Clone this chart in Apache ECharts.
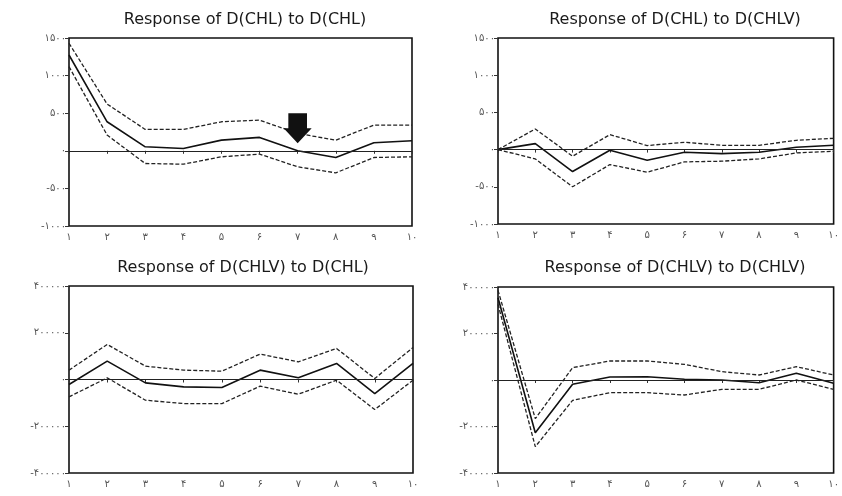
<!DOCTYPE html>
<html>
<head>
<meta charset="utf-8">
<script src="https://cdn.jsdelivr.net/npm/echarts@6/dist/echarts.min.js"></script>
<style>html,body{margin:0;padding:0;background:#fff}#c{width:842px;height:496px}</style>
</head>
<body>
<div id="c"></div>
<script>
var periods = [1, 2, 3, 4, 5, 6, 7, 8, 9, 10];
var titles = ['Response of D(CHL) to D(CHL)', 'Response of D(CHL) to D(CHLV)', 'Response of D(CHLV) to D(CHL)', 'Response of D(CHLV) to D(CHLV)'];

var chlChl = [1274, 386, 53, 31, 142, 178, 0, -89, 107, 133];
var chlChlUp = [1430, 622, 284, 284, 386, 408, 231, 142, 342, 342];
var chlChlLo = [1119, 209, -169, -178, -80, -44, -213, -293, -89, -80];

var chlChlv = [0, 80, -295, -9, -143, -36, -54, -36, 31, 58];
var chlChlvUp = [0, 277, -89, 201, 54, 98, 58, 58, 125, 152];
var chlChlvLo = [0, -125, -500, -201, -304, -165, -156, -125, -45, -22];

var chlvChl = [-21400, 78600, -14300, -31400, -34300, 40000, 7100, 68600, -60000, 68600];
var chlvChlUp = [40000, 150000, 57100, 40000, 35700, 108600, 75700, 132900, 4300, 137100];
var chlvChlLo = [-74300, 7100, -88600, -102900, -102900, -28600, -62900, -2900, -128600, -2900];

var chlvChlv = [354000, -226600, -18600, 12900, 14300, 2900, 0, -11500, 28700, -14300];
var chlvChlvUp = [385700, -166300, 53100, 81700, 81700, 67400, 35900, 21500, 57400, 21500];
var chlvChlvLo = [325500, -286800, -87500, -54500, -54500, -64500, -40200, -40200, 0, -40200];

var arrowPoint = [7, 300];

var fa = '۰۱۲۳۴۵۶۷۸۹';
function toFa(v) {
  return String(v).replace(/[0-9]/g, function (d) { return fa[+d]; });
}

var panels = [
  {mid: chlChl, up: chlChlUp, lo: chlChlLo, min: -1000, max: 1500, step: 500},
  {mid: chlChlv, up: chlChlvUp, lo: chlChlvLo, min: -1000, max: 1500, step: 500},
  {mid: chlvChl, up: chlvChlUp, lo: chlvChlLo, min: -400000, max: 400000, step: 200000},
  {mid: chlvChlv, up: chlvChlvUp, lo: chlvChlvLo, min: -400000, max: 400000, step: 200000}
];
var grids = [
  {left: 69, top: 38, width: 343, height: 188},
  {left: 498, top: 38, width: 341, height: 186},
  {left: 69, top: 286, width: 344, height: 187},
  {left: 498, top: 287, width: 340, height: 186}
];
var titlePos = [[240, 7], [670, 7], [238, 255], [670, 255]];

var cats = periods.map(String);
var option = {
  backgroundColor: '#fff',
  animation: false,
  title: titles.map(function (t, i) {
    return {text: t, left: titlePos[i][0], top: titlePos[i][1], textAlign: 'center',
      textStyle: {fontFamily: 'DejaVu Sans, sans-serif', fontSize: 16, fontWeight: 'normal', color: '#1a1a1a'}};
  }),
  grid: grids.map(function (g) {
    return Object.assign({show: true, borderColor: '#111', borderWidth: 1.6, backgroundColor: '#fff'}, g);
  }),
  xAxis: grids.map(function (g, i) {
    return {type: 'category', gridIndex: i, data: cats, boundaryGap: false,
      axisLine: {show: false}, axisTick: {show: true, length: 3, lineStyle: {color: '#333'}},
      axisLabel: {fontSize: 10, color: '#555', fontFamily: 'DejaVu Sans', margin: 6, formatter: function (v) { return toFa(v); }},
      splitLine: {show: false}};
  }),
  yAxis: panels.map(function (p, i) {
    return {type: 'value', gridIndex: i, min: p.min, max: p.max, interval: p.step,
      axisLine: {show: false}, axisTick: {show: true, length: 4, lineStyle: {color: '#333'}},
      axisLabel: {fontSize: 10, color: '#555', fontFamily: 'DejaVu Sans', margin: 3, formatter: function (v) { return toFa(v); }},
      splitLine: {show: false}};
  }),
  series: []
};
panels.forEach(function (p, i) {
  var mid = {type: 'line', xAxisIndex: i, yAxisIndex: i, data: p.mid, symbol: 'none',
    lineStyle: {color: '#111', width: 1.6}, z: 3,
    markLine: {silent: true, symbol: 'none', label: {show: false},
      lineStyle: {color: '#222', width: 1, type: 'solid'}, data: [{yAxis: 0}]}};
  if (i === 0) {
    mid.markPoint = {silent: true, symbol: 'path://M5,0 L25,0 L25,15 L30,15 L15,30 L0,15 L5,15 Z',
      symbolSize: [28, 30], itemStyle: {color: '#111'}, label: {show: false},
      data: [{coord: [String(arrowPoint[0]), arrowPoint[1]]}]};
  }
  option.series.push(mid);
  [p.up, p.lo].forEach(function (d) {
    option.series.push({type: 'line', xAxisIndex: i, yAxisIndex: i, data: d, symbol: 'none',
      lineStyle: {color: '#222', width: 1.3, type: [4, 2]}, z: 2});
  });
});
var chart = echarts.init(document.getElementById('c'));
chart.setOption(option);
</script>
</body>
</html>
